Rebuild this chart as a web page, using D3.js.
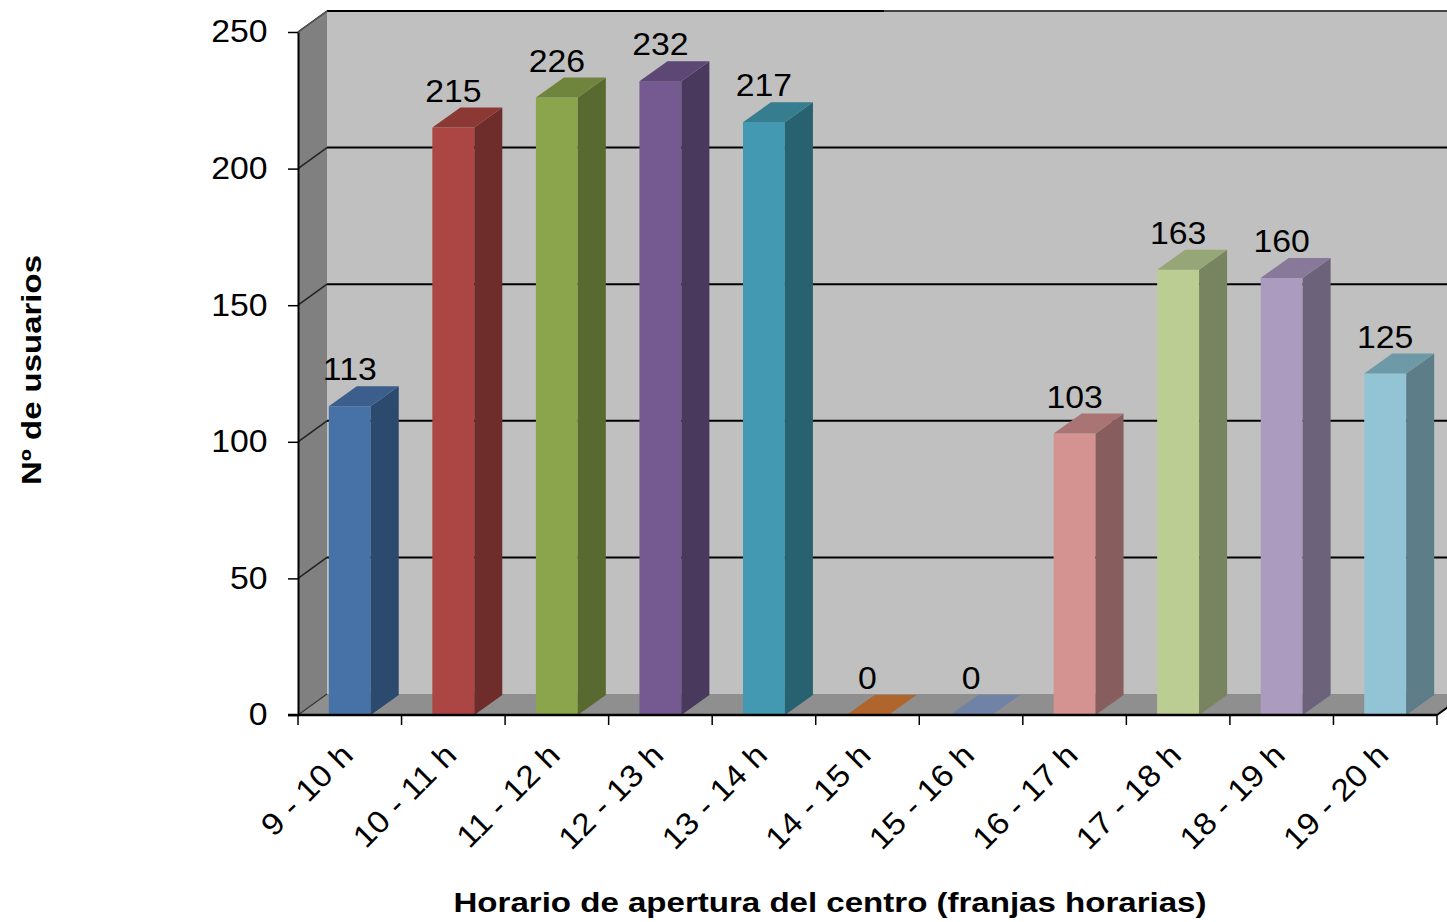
<!DOCTYPE html>
<html>
<head>
<meta charset="utf-8">
<script src="https://cdn.jsdelivr.net/npm/d3@7"></script>
<style>
  body { margin: 0; background: #fff; }
  text { font-family: "Liberation Sans", Arial, sans-serif; }
</style>
</head>
<body>
<div id="chart"></div>
<script>
// franjas horarias y nº de usuarios
var franjas = ["9 - 10 h", "10 - 11 h", "11 - 12 h", "12 - 13 h", "13 - 14 h", "14 - 15 h",
               "15 - 16 h", "16 - 17 h", "17 - 18 h", "18 - 19 h", "19 - 20 h"];
var usuarios = [113, 215, 226, 232, 217, 0, 0, 103, 163, 160, 125];
var yTicks = [0, 50, 100, 150, 200, 250];
// front / side / top colours per bar
var frontCol = ["#4672a8", "#ac4644", "#8aa54c", "#745a91", "#4299b1", "#c8763a", "#8597bb", "#d49291", "#bccd94", "#aa9bbf", "#93c4d6"];
var sideCol  = ["#2c4a6e", "#6e2c2b", "#586a30", "#49395d", "#286271", "#8a5228", "#5c6a86", "#875e5d", "#77845f", "#6c627a", "#5d7d89"];
var topCol   = ["#3b5e8c", "#8c3936", "#6f853d", "#5d4875", "#357d8f", "#b0652c", "#7083a6", "#a97473", "#97a676", "#88799a", "#6d9aa6"];

(function(){
  var W = 1447, H = 922;
  var left = 298, right = 1437, top = 32, bottom = 715;
  var wdx = 29, wdy = -21;   // depth of walls
  var bdx = 28, bdy = -20;   // depth of bars
  var sx = 1.09;             // text in the original is a bit wider

  var svg = d3.select("#chart").append("svg")
    .attr("width", W).attr("height", H);

  var y = d3.scaleLinear().domain([0, 250]).range([bottom, top]);
  var x = d3.scaleBand().domain(franjas).range([left, right]).padding(0);
  var bw = x.bandwidth() * 0.405;

  // left wall
  svg.append("polygon")
    .attr("points", [[left, top], [left + wdx, top + wdy], [left + wdx, bottom + wdy], [left, bottom]].join(" "))
    .attr("fill", "#808080");
  // back wall
  svg.append("rect")
    .attr("x", left + wdx).attr("y", top + wdy)
    .attr("width", W - left - wdx).attr("height", bottom - top)
    .attr("fill", "#c0c0c0");

  // gridlines (back wall + left wall)
  yTicks.filter(function(d){ return d > 0; }).forEach(function(t){
    if (t == 250) {
      svg.append("line")
        .attr("x1", left + wdx).attr("x2", 884)
        .attr("y1", y(t) + wdy).attr("y2", y(t) + wdy)
        .attr("stroke", "#000").attr("stroke-width", 2);
      svg.append("line")
        .attr("x1", 884).attr("x2", W)
        .attr("y1", y(t) + wdy).attr("y2", y(t) + wdy)
        .attr("stroke", "#444").attr("stroke-width", 2);
    } else {
      svg.append("line")
        .attr("x1", left + wdx).attr("x2", W)
        .attr("y1", y(t) + wdy).attr("y2", y(t) + wdy)
        .attr("stroke", "#000").attr("stroke-width", 2);
    }
    svg.append("line")
      .attr("x1", left).attr("x2", left + wdx)
      .attr("y1", y(t)).attr("y2", y(t) + wdy)
      .attr("stroke", "#222").attr("stroke-width", 1.5);
  });

  // floor
  svg.append("polygon")
    .attr("points", [[left, bottom], [right, bottom], [right + wdx, bottom + wdy], [left + wdx, bottom + wdy]].join(" "))
    .attr("fill", "#8f8f8f");
  svg.append("line")
    .attr("x1", left).attr("x2", left + wdx)
    .attr("y1", bottom).attr("y2", bottom + wdy)
    .attr("stroke", "#333").attr("stroke-width", 1.2);

  // bars
  var bars = svg.selectAll("g.bar")
    .data(usuarios)
    .join("g").attr("class", "bar");

  bars.each(function(v, i){
    var g = d3.select(this);
    var cx = x(franjas[i]) + x.bandwidth() / 2;
    var x0 = cx - bw / 2, x1 = cx + bw / 2, yt = y(v);
    if (v > 0) {
      g.append("rect")
        .attr("x", x0).attr("y", yt).attr("width", bw).attr("height", bottom - yt)
        .attr("fill", frontCol[i]);
      g.append("polygon")
        .attr("points", [[x1, yt], [x1 + bdx, yt + bdy], [x1 + bdx, bottom + bdy], [x1, bottom]].join(" "))
        .attr("fill", sideCol[i]);
    }
    g.append("polygon")
      .attr("points", [[x0, yt], [x1, yt], [x1 + bdx, yt + bdy], [x0 + bdx, yt + bdy]].join(" "))
      .attr("fill", topCol[i]);
    g.append("text")
      .attr("transform", "translate(" + cx + "," + (yt + bdy - 6) + ") scale(" + sx + ",1)")
      .attr("text-anchor", "middle")
      .attr("font-size", 31)
      .text(v);
  });

  // y axis
  var yAxis = svg.append("g")
    .attr("transform", "translate(" + left + ",0)")
    .call(d3.axisLeft(y).tickValues(yTicks).tickSize(10).tickSizeOuter(0).tickPadding(18));
  yAxis.select(".domain").attr("stroke", "#000").attr("stroke-width", 2);
  yAxis.selectAll(".tick line").attr("stroke", "#000").attr("stroke-width", 1.5);
  yAxis.selectAll(".tick text").attr("font-size", 31).attr("fill", "#000")
    .attr("transform", "scale(" + sx + ",1)")
    .style("font-family", "'Liberation Sans', Arial, sans-serif");

  svg.append("line")
    .attr("x1", left).attr("x2", left + wdx)
    .attr("y1", top).attr("y2", top + wdy)
    .attr("stroke", "#555").attr("stroke-width", 1.5);

  // x axis line and boundary ticks
  svg.append("line")
    .attr("x1", left - 10).attr("x2", right)
    .attr("y1", bottom).attr("y2", bottom)
    .attr("stroke", "#000").attr("stroke-width", 2.5);
  svg.append("line")
    .attr("x1", right).attr("x2", right + wdx)
    .attr("y1", bottom).attr("y2", bottom + wdy)
    .attr("stroke", "#000").attr("stroke-width", 2);
  var edges = franjas.map(function(d){ return x(d); }).concat([right]);
  svg.selectAll("line.xtick")
    .data(edges)
    .join("line").attr("class", "xtick")
    .attr("x1", function(d){ return d; }).attr("x2", function(d){ return d; })
    .attr("y1", bottom).attr("y2", bottom + 10)
    .attr("stroke", "#000").attr("stroke-width", 1.5);

  svg.selectAll("text.xlab")
    .data(franjas)
    .join("text").attr("class", "xlab")
    .attr("text-anchor", "end")
    .attr("font-size", 31)
    .attr("transform", function(d){
      return "translate(" + (x(d) + x.bandwidth() / 2 + 5) + "," + 757 + ") rotate(-45) scale(" + sx + ",1)";
    })
    .text(function(d){ return d; });

  // axis titles
  svg.append("text")
    .attr("x", 830).attr("y", 912)
    .attr("text-anchor", "middle")
    .attr("font-size", 28).attr("font-weight", "bold")
    .attr("textLength", 753).attr("lengthAdjust", "spacingAndGlyphs")
    .text("Horario de apertura del centro (franjas horarias)");
  svg.append("text")
    .attr("transform", "translate(41,370) rotate(-90)")
    .attr("text-anchor", "middle")
    .attr("font-size", 28).attr("font-weight", "bold")
    .attr("textLength", 230).attr("lengthAdjust", "spacingAndGlyphs")
    .text("Nº de usuarios");
})();
</script>
</body>
</html>
